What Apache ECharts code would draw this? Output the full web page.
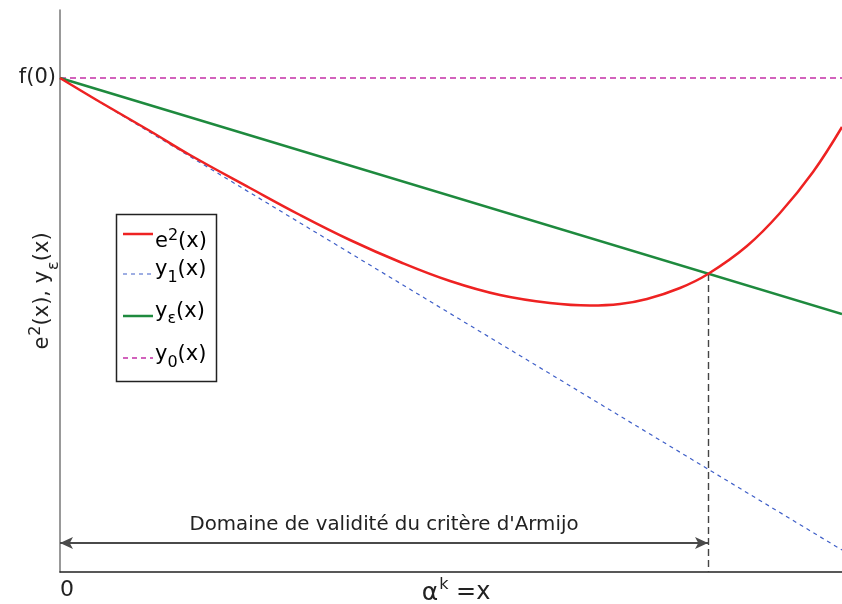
<!DOCTYPE html>
<html>
<head>
<meta charset="utf-8">
<script src="https://cdn.jsdelivr.net/npm/echarts@6/dist/echarts.min.js"></script>
<style>html,body{margin:0;padding:0;background:#fff}#c{width:842px;height:604px}</style>
</head>
<body>
<div id="c"></div>
<script>
// ---- data (arbitrary units) ----
const xMax = 782;
const yMax = 562;
const f0 = 494;
const e2X = [0, 40, 90, 130, 190, 240, 290, 340, 390, 440, 490, 530, 560, 587, 620, 648, 687, 720, 753, 782];
const e2Y = [494, 470, 441, 417, 384, 357, 332, 310, 291, 277, 269, 266.5, 268, 273, 284, 298, 326, 359, 400, 445];
const y1X = [0, 782];
const y1Y = [494, 22];
const yEpsX = [0, 782];
const yEpsY = [494, 258];
const y0X = [0, 782];
const y0Y = [494, 494];
const armijoX = 648;      // intersection abscissa
const armijoY = 298;      // intersection ordinate
const arrowY = 29;        // height of the domain arrow
const domainText = "Domaine de validité du critère d'Armijo";
const yTickLabel = 'f(0)';
const xTickLabel = '0';

const FONT = 'DejaVu Sans';
const zip = (xs, ys) => xs.map((x, i) => [x, ys[i]]);

const RED = '#ee2222', BLUE = '#3f5fc8', GREEN = '#1e8a3e', MAG = '#c42fa6';
const INK = '#222';

const legendRich = {
  b: {fontFamily: FONT, fontSize: 21, lineHeight: 24, color: INK, verticalAlign: 'top', padding: [4, 0, 0, 0]},
  sup: {fontFamily: FONT, fontSize: 16, lineHeight: 16, color: INK, verticalAlign: 'top', padding: [1, 0, 0, 0]},
  sub: {fontFamily: FONT, fontSize: 16, lineHeight: 16, color: INK, verticalAlign: 'top', padding: [15, 0, 0, 0]},
  subE: {fontFamily: FONT, fontSize: 16, lineHeight: 16, color: INK, verticalAlign: 'top', padding: [14, 0, 0, 0]}
};

const chart = echarts.init(document.getElementById('c'), null, {renderer: 'canvas'});

// ty = top of the text line box
const legendItems = [
  {y: 234, color: RED, dash: null, w: 2.5, text: '{b|e}{sup|2}{b|(x)}', ty: 227},
  {y: 274, color: BLUE, dash: [4, 4], w: 1.2, text: '{b|y}{sub|1}{b|(x)}', ty: 255},
  {y: 316, color: GREEN, dash: null, w: 2.5, text: '{b|y}{subE|ε}{b|(x)}', ty: 297},
  {y: 358, color: MAG, dash: [5, 4], w: 1.3, text: '{b|y}{sub|0}{b|(x)}', ty: 340}
];

const graphics = [{
  type: 'rect', shape: {x: 116.5, y: 214.5, width: 100, height: 167},
  style: {fill: '#fff', stroke: INK, lineWidth: 1.5}, z: 10
}];
legendItems.forEach(it => {
  graphics.push({
    type: 'line', shape: {x1: 123, y1: it.y, x2: 153, y2: it.y},
    style: {stroke: it.color, lineWidth: it.w, lineDash: it.dash || null}, z: 11
  });
  graphics.push({
    type: 'text', x: 155, y: it.ty,
    style: {text: it.text, rich: legendRich, verticalAlign: 'top', align: 'left'}, z: 11
  });
});

chart.setOption({
  animation: false,
  backgroundColor: '#fff',
  grid: {left: 60, right: 0, top: 10, bottom: 32, containLabel: false, outerBoundsMode: 'none'},
  xAxis: {
    type: 'value', min: 0, max: xMax,
    axisLine: {show: true, lineStyle: {color: INK, width: 1.5}},
    axisTick: {show: false},
    splitLine: {show: false},
    axisLabel: {
      customValues: [0], formatter: () => xTickLabel, align: 'left', margin: 7,
      fontFamily: FONT, fontSize: 22, color: INK
    },
    name: '{a|α}{sup|k}{b| =x}',
    nameLocation: 'middle', nameGap: 3, nameMoveOverlap: false,
    nameTextStyle: {
      rich: {
        a: {fontFamily: FONT, fontSize: 25, lineHeight: 28, color: INK, verticalAlign: 'top', padding: [6, 0, 0, 10]},
        b: {fontFamily: FONT, fontSize: 24, lineHeight: 28, color: INK, verticalAlign: 'top', padding: [6, 0, 0, 0]},
        sup: {fontFamily: FONT, fontSize: 16, lineHeight: 16, color: INK, verticalAlign: 'top', padding: [2, 0, 0, 1]}
      }
    }
  },
  yAxis: {
    type: 'value', min: 0, max: yMax,
    axisLine: {show: true, onZero: false, lineStyle: {color: '#777', width: 1.5}},
    axisTick: {show: false},
    splitLine: {show: false},
    axisLabel: {
      customValues: [f0], formatter: () => yTickLabel, margin: 4,
      fontFamily: FONT, fontSize: 21, color: INK
    },
    name: '{b|e}{sup|2}{b|(x), y}{sub|ε}{b|(x)}',
    nameLocation: 'middle', nameGap: 8, nameMoveOverlap: false,
    nameTextStyle: {
      rich: {
        b: {fontFamily: FONT, fontSize: 21, lineHeight: 24, color: INK, verticalAlign: 'top', padding: [4, 0, 0, 0]},
        sup: {fontFamily: FONT, fontSize: 16, lineHeight: 16, color: INK, verticalAlign: 'top', padding: [0, 0, 0, 1]},
        sub: {fontFamily: FONT, fontSize: 16, lineHeight: 16, color: INK, verticalAlign: 'top', padding: [18, 0, 0, 1]}
      }
    }
  },
  series: [
    {
      name: 'y0', type: 'line', data: zip(y0X, y0Y), showSymbol: false,
      lineStyle: {color: MAG, width: 1.3, type: [6, 4]}, z: 2
    },
    {
      name: 'y1', type: 'line', data: zip(y1X, y1Y), showSymbol: false,
      lineStyle: {color: BLUE, width: 1.2, type: [4, 4]}, z: 3
    },
    {
      name: 'yeps', type: 'line', data: zip(yEpsX, yEpsY), showSymbol: false,
      lineStyle: {color: GREEN, width: 2.5}, z: 4
    },
    {
      name: 'e2', type: 'line', data: zip(e2X, e2Y), showSymbol: false, smooth: 0.4,
      lineStyle: {color: RED, width: 2.5}, z: 5
    },
    {
      name: 'annot', type: 'line', data: [], silent: true, z: 6,
      markLine: {
        silent: true, animation: false,
        data: [
          [
            {coord: [armijoX, armijoY], symbol: 'none', lineStyle: {color: '#444', width: 1.4, type: [7, 4]}, label: {show: false}},
            {coord: [armijoX, 0], symbol: 'none'}
          ],
          [
            {coord: [0, arrowY], symbol: 'arrow', symbolSize: [9, 13],
             lineStyle: {color: '#4a4a4a', width: 1.8, type: 'solid'},
             label: {show: true, position: 'middle', formatter: domainText, distance: 8,
                     fontFamily: FONT, fontSize: 19.8, color: INK}},
            {coord: [armijoX, arrowY], symbol: 'arrow', symbolSize: [9, 13]}
          ]
        ]
      }
    }
  ],
  graphic: graphics
});
</script>
</body>
</html>
